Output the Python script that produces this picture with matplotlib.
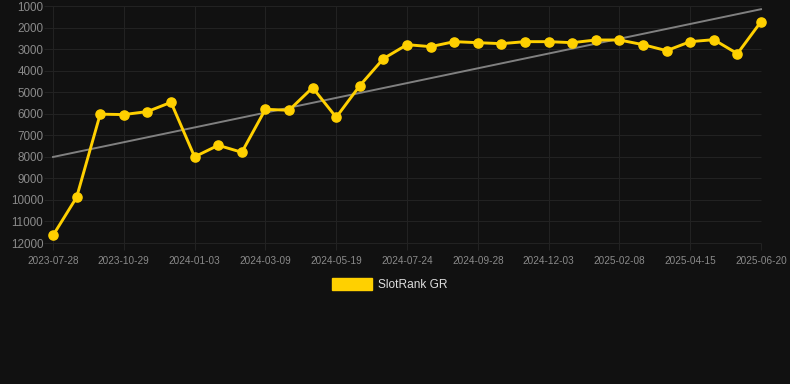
import matplotlib
matplotlib.use("Agg")
import matplotlib.pyplot as plt
import numpy as np

dates = ["2023-07-28", "2023-08-28", "2023-09-28", "2023-10-29", "2023-11-20",
         "2023-12-12", "2024-01-03", "2024-01-25", "2024-02-16", "2024-03-09",
         "2024-04-01", "2024-04-25", "2024-05-19", "2024-06-10", "2024-07-02",
         "2024-07-24", "2024-08-15", "2024-09-06", "2024-09-28", "2024-10-20",
         "2024-11-11", "2024-12-03", "2024-12-25", "2025-01-17", "2025-02-08",
         "2025-03-02", "2025-03-24", "2025-04-15", "2025-05-07", "2025-05-29",
         "2025-06-20"]
rank = [11650, 9880, 6020, 6040, 5900, 5470, 8000, 7465, 7790, 5795,
        5840, 4790, 6166, 4697, 3444, 2794, 2887, 2655, 2702, 2748,
        2655, 2655, 2702, 2578, 2578, 2794, 3073, 2655, 2563, 3213, 1728]
yticks = [1000, 2000, 3000, 4000, 5000, 6000, 7000, 8000, 9000, 10000, 11000, 12000]
series_name = "SlotRank GR"

plt.rcParams['font.family'] = ['Liberation Sans', 'DejaVu Sans']

BG = "#111111"
GOLD = "#FFD000"
GRID = "#222222"

fig = plt.figure(figsize=(7.9, 3.84), dpi=100, facecolor=BG)
ax = fig.add_axes([53/790, 1-243/384, (761-53)/790, (243-6)/384])
ax.set_facecolor(BG)

x = np.arange(len(dates))
coef = np.polyfit(x, rank, 1)
trend = np.polyval(coef, x)
ax.plot(x, trend, color="#808080", lw=1.4, zorder=2, clip_on=False)
ax.plot(x, rank, color=GOLD, lw=2.1, marker="o", ms=6.6, zorder=3,
        clip_on=False, label=series_name)

ax.set_xlim(0, len(dates) - 1)
ax.set_ylim(12000, 1000)
ax.set_yticks(yticks)
ax.set_yticklabels([str(v) for v in yticks])
tick_idx = list(range(0, len(dates), 3))
ax.set_xticks(tick_idx)
ax.set_xticklabels([dates[i] for i in tick_idx])

ax.grid(True, axis="x", color=GRID, lw=0.8)
ax.hlines(yticks, -9/708, 1, transform=ax.get_yaxis_transform(),
          color=GRID, lw=0.8, zorder=0, clip_on=False)
ax.set_axisbelow(True)
for s in ax.spines.values():
    s.set_visible(False)
ax.tick_params(axis="y", length=0, pad=7, labelsize=8.4, labelcolor="#8a8a8a")
ax.tick_params(axis="x", length=5, color=GRID, pad=4, labelsize=7.2, labelcolor="#8a8a8a")

# legend
fig.patches.append(plt.Rectangle((332/790, 1-290/384), 40/790, 12/384,
                                 transform=fig.transFigure, color=GOLD))
fig.text(378/790, 1-285/384, series_name, color="#dddddd", fontsize=8.6,
         va="center", ha="left")

fig.savefig("out.png", dpi=100, facecolor=BG)
